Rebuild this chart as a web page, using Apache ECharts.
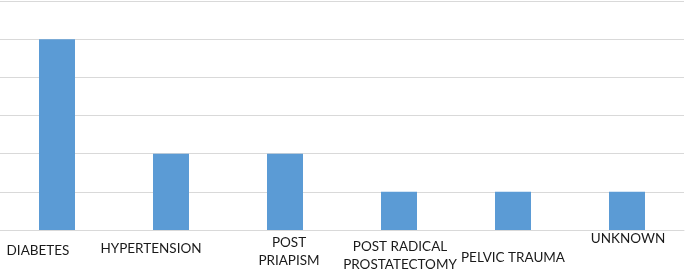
<!DOCTYPE html>
<html>
<head>
<meta charset="utf-8">
<script src="https://cdn.jsdelivr.net/npm/echarts@6/dist/echarts.min.js"></script>
<style>
  html, body { margin: 0; padding: 0; background: #fff; }
  #main { width: 685px; height: 269px; }
</style>
</head>
<body>
<div id="main"></div>
<script>
// categories and counts
var categories = ['DIABETES', 'HYPERTENSION', 'POST\nPRIAPISM', 'POST RADICAL\nPROSTATECTOMY', 'PELVIC TRAUMA', 'UNKNOWN'];
var counts = [5, 2, 2, 1, 1, 1];

// label nudges [top, right, bottom, left] so labels sit where they do in the original
var labelPads = [[14, 38, 0, 0], [12, 40, 0, 0], [6, 0, 0, 8], [10, 0, 0, 2], [21, 0, 0, 0], [2, 0, 0, 2]];

var chart = echarts.init(document.getElementById('main'));

var xData = [];
for (var i = 0; i < categories.length; i++) {
  xData.push({
    value: categories[i],
    textStyle: { padding: labelPads[i] }
  });
}

chart.setOption({
  animation: false,
  grid: { left: 0, right: 1, top: 1, bottom: 39, outerBoundsMode: 'none', containLabel: false },
  xAxis: {
    type: 'category',
    data: xData,
    axisLine: { lineStyle: { color: '#d9d9d9', width: 1 } },
    axisTick: { show: false },
    axisLabel: {
      interval: 0,
      margin: -2,
      color: '#1a1a1a',
      fontFamily: 'Lato',
      fontSize: 13.5,
      lineHeight: 17.5
    }
  },
  yAxis: {
    type: 'value',
    min: 0,
    max: 6,
    interval: 1,
    axisLabel: { show: false },
    axisLine: { show: false },
    axisTick: { show: false },
    splitLine: { lineStyle: { color: '#d9d9d9', width: 1 } }
  },
  series: [{
    type: 'bar',
    data: counts,
    barWidth: 36,
    itemStyle: { color: '#5b9bd5' }
  }]
});
</script>
</body>
</html>
